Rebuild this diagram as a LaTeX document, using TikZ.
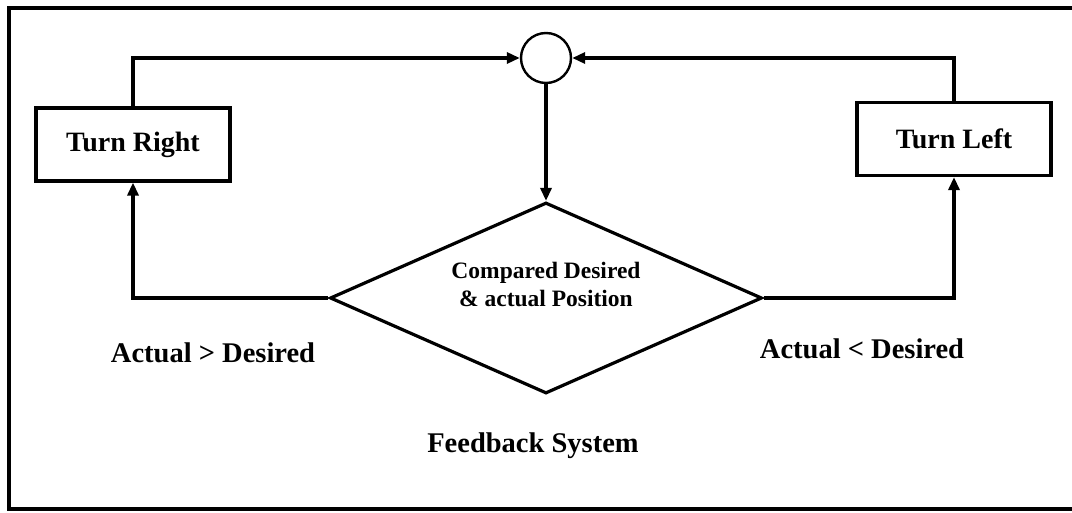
\documentclass[tikz,border=0pt]{standalone}
\usepackage{fontspec}
\setmainfont{Liberation Serif}
\usetikzlibrary{shapes.geometric,arrows.meta}
\begin{document}
\begin{tikzpicture}[x=1pt,y=-1pt, line width=3.2pt,
  box/.style={draw, rectangle, minimum width=194pt, minimum height=73pt, inner sep=0pt, font=\fontsize{28}{32}\selectfont\bfseries},
  decision/.style={draw, diamond, aspect=2.26, minimum width=432pt, minimum height=191pt, inner sep=0pt, align=center, font=\fontsize{23.5}{28}\selectfont\bfseries},
  junction/.style={draw, circle, minimum size=50pt, inner sep=0pt, line width=2.4pt},
  lbl/.style={font=\fontsize{28.5}{32}\selectfont\bfseries, inner sep=0pt},
  arr/.style={-{Triangle[length=13pt,width=11pt]}}
]
\useasboundingbox (0,0) rectangle (1072,513);
\draw[line width=4pt] (1076,8) -- (9,8) -- (9,509) -- (1076,509);

\node[box] (tr) at (133,144.5) {Turn Right};
\node[box] (tl) at (954,139) {Turn Left};
\node[junction] (sum) at (546,58) {};
\node[decision] (cmp) at (546,298) {Compared Desired\\\& actual Position\rule[-27pt]{0pt}{0pt}};

\node[lbl] (lgt) at (213,353) {Actual > Desired};
\node[lbl] (llt) at (862,349) {Actual < Desired};
\node[lbl] (cap) at (533,446) {Feedback System};

\draw[arr] (tr.north) |- (sum.west);
\draw[arr] (tl.north) |- (sum.east);
\draw[arr] (sum.south) -- (cmp.north);
\draw[arr] (cmp.west) -| (tr.south);
\draw[arr] (cmp.east) -| (tl.south);
\end{tikzpicture}
\end{document}
